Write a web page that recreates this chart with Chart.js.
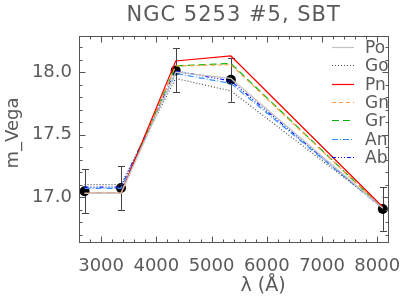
<!DOCTYPE html>
<html>
<head>
<meta charset="utf-8">
<script src="https://cdn.jsdelivr.net/npm/chart.js@4.4.1/dist/chart.umd.min.js"></script>
<style>
html,body{margin:0;padding:0;background:#fff;}
#wrap{width:415px;height:297px;}
</style>
</head>
<body>
<div id="wrap"><canvas id="c" width="415" height="297"></canvas></div>
<script>
// ---- data ----
const wavelengths = [2700, 3360, 4350, 5350, 8100];
const observed    = [17.046, 17.073, 18.014, 17.939, 16.905];
const obsError    = [0.176, 0.176, 0.176, 0.176, 0.176];
const modelNames  = ["Po", "Go", "Pn", "Gn", "Gr", "An", "Ab"];
const modelPo = [17.03, 17.03, 18.00, 17.95, 16.91];
const modelGo = [17.10, 17.10, 17.95, 17.85, 16.92];
const modelPn = [17.03, 17.03, 18.09, 18.13, 16.92];
const modelGn = [17.03, 17.03, 18.05, 18.06, 16.91];
const modelGr = [17.03, 17.03, 18.05, 18.07, 16.91];
const modelAn = [17.07, 17.07, 17.99, 17.91, 16.91];
const modelAb = [17.08, 17.08, 18.01, 17.93, 16.91];
const xTickVals = [3000, 4000, 5000, 6000, 7000, 8000];
const yTickVals = [17.0, 17.5, 18.0];
const titleText = "NGC 5253 #5, SBT";
const xTitle = "λ (Å)";
const yTitle = "m_Vega";

const FONT = "'DejaVu Sans', sans-serif";
const TXT = "#5a5a5a";

const modelValues = [modelPo, modelGo, modelPn, modelGn, modelGr, modelAn, modelAb];
const modelStyles = [
  {color: "#c4c4c4", dash: []},
  {color: "#505050", dash: [1, 2]},
  {color: "#ff0000", dash: []},
  {color: "#ffa040", dash: [4, 3]},
  {color: "#00b400", dash: [7, 4]},
  {color: "#3090ff", dash: [6, 2, 1, 2]},
  {color: "#1010ff", dash: [4, 2, 1, 2, 1, 2, 1, 2]}
];

const toXY = vals => wavelengths.map((w, i) => ({x: w, y: vals[i]}));

const datasets = modelNames.map((name, k) => ({
  label: name,
  data: toXY(modelValues[k]),
  borderColor: modelStyles[k].color,
  borderDash: modelStyles[k].dash,
  borderWidth: 1.2,
  pointRadius: 0,
  fill: false,
  tension: 0
}));
datasets.push({
  label: "obs",
  data: toXY(observed),
  showLine: false,
  pointRadius: 5,
  pointBackgroundColor: "#000",
  pointBorderColor: "#000",
  pointBorderWidth: 0
});

const decor = {
  id: "decor",
  beforeDatasetsDraw(chart) {
    const ctx = chart.ctx, xs = chart.scales.x, ys = chart.scales.y;
    ctx.save();
    ctx.strokeStyle = "#444";
    ctx.lineWidth = 1;
    wavelengths.forEach((w, i) => {
      const px = Math.round(xs.getPixelForValue(w)) + 0.5;
      const top = ys.getPixelForValue(observed[i] + obsError[i]);
      const bot = ys.getPixelForValue(observed[i] - obsError[i]);
      ctx.beginPath();
      ctx.moveTo(px, top); ctx.lineTo(px, bot);
      ctx.moveTo(px - 3.5, Math.round(top) + 0.5); ctx.lineTo(px + 3.5, Math.round(top) + 0.5);
      ctx.moveTo(px - 3.5, Math.round(bot) + 0.5); ctx.lineTo(px + 3.5, Math.round(bot) + 0.5);
      ctx.stroke();
    });
    ctx.restore();
  },
  afterDraw(chart) {
    const ctx = chart.ctx, xs = chart.scales.x, ys = chart.scales.y;
    const a = chart.chartArea;
    ctx.save();
    // frame
    ctx.strokeStyle = "#555";
    ctx.lineWidth = 1;
    const L = Math.round(a.left) + 0.5, R = Math.round(a.right) + 0.5;
    const T = Math.round(a.top) + 0.5, B = Math.round(a.bottom) + 0.5;
    ctx.strokeRect(L, T, R - L, B - T);
    // x ticks (major 1000, minor 200)
    ctx.beginPath();
    for (let v = 2600; v <= 8200; v += 200) {
      const px = Math.round(xs.getPixelForValue(v)) + 0.5;
      const len = (v % 1000 === 0) ? 6 : 3;
      ctx.moveTo(px, B); ctx.lineTo(px, B - len);
      ctx.moveTo(px, T); ctx.lineTo(px, T + len);
    }
    // y ticks (major 0.5, minor 0.1)
    for (let i = 167; i <= 182; i++) {
      const v = i / 10;
      const py = Math.round(ys.getPixelForValue(v)) + 0.5;
      const len = (i % 5 === 0) ? 6 : 3;
      ctx.moveTo(L, py); ctx.lineTo(L + len, py);
      ctx.moveTo(R, py); ctx.lineTo(R - len, py);
    }
    ctx.stroke();
    // titles
    ctx.fillStyle = TXT;
    ctx.textAlign = "center";
    ctx.textBaseline = "middle";
    ctx.font = "21px " + FONT;
    try { ctx.letterSpacing = "1px"; } catch (e) {}
    ctx.fillText(titleText, (a.left + a.right) / 2, 16);
    try { ctx.letterSpacing = "0px"; } catch (e) {}
    ctx.font = "19px " + FONT;
    ctx.fillText(xTitle, 263, 286);
    ctx.font = "18px " + FONT;
    ctx.save();
    ctx.translate(13, 133);
    ctx.rotate(-Math.PI / 2);
    ctx.fillText(yTitle, 0, 0);
    ctx.restore();
    // legend
    ctx.textAlign = "left";
    ctx.font = "17px " + FONT;
    modelNames.forEach((name, k) => {
      const y = Math.round(47 + k * 18.3) + 0.5;
      ctx.strokeStyle = modelStyles[k].color;
      ctx.lineWidth = 1.2;
      ctx.setLineDash(modelStyles[k].dash);
      ctx.beginPath();
      ctx.moveTo(332, y); ctx.lineTo(354, y);
      ctx.stroke();
      ctx.setLineDash([]);
      ctx.fillStyle = TXT;
      ctx.fillText(name, 365, y + 1);
    });
    ctx.restore();
  }
};

new Chart(document.getElementById("c"), {
  type: "line",
  data: {datasets},
  options: {
    responsive: false,
    animation: false,
    events: [],
    layout: {padding: {top: 36, right: 23, left: 0, bottom: 0}},
    plugins: {legend: {display: false}, title: {display: false}, tooltip: {enabled: false}},
    scales: {
      x: {
        type: "linear", min: 2600, max: 8200,
        afterBuildTicks: s => { s.ticks = xTickVals.map(v => ({value: v})); },
        afterFit: s => { s.height = 55; },
        grid: {display: false, drawTicks: false},
        border: {display: false},
        ticks: {color: TXT, font: {family: FONT, size: 18}, padding: 14, maxRotation: 0,
                callback: v => String(v)}
      },
      y: {
        type: "linear", min: 16.64, max: 18.29,
        afterBuildTicks: s => { s.ticks = yTickVals.map(v => ({value: v})); },
        afterFit: s => { s.width = 79; },
        grid: {display: false, drawTicks: false},
        border: {display: false},
        ticks: {color: TXT, font: {family: FONT, size: 18}, padding: 7,
                callback: v => Number(v).toFixed(1)}
      }
    }
  },
  plugins: [decor]
});
</script>
</body>
</html>
